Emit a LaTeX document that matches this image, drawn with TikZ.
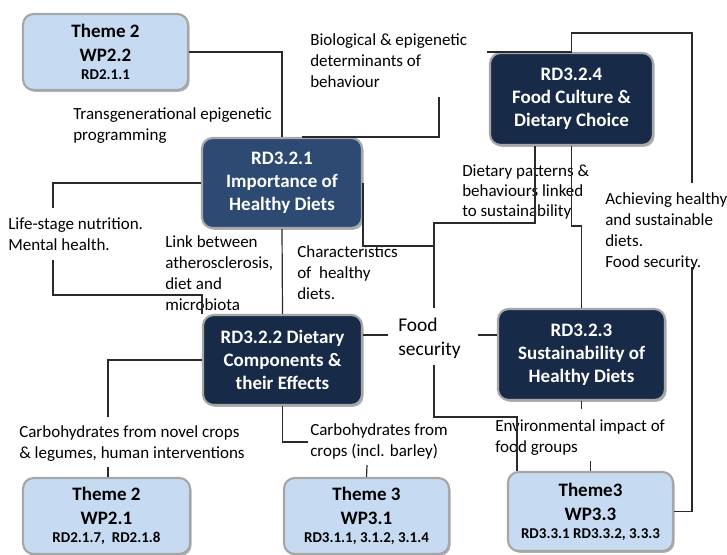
\documentclass[tikz,border=0pt]{standalone}
\usepackage{fontspec}
\setmainfont{Carlito}
\usetikzlibrary{shadows,calc}

\definecolor{navy}{HTML}{172B49}
\definecolor{steel}{HTML}{2C4A72}
\definecolor{pale}{HTML}{C6DBF2}
\definecolor{rim}{HTML}{A6A6A6}
\definecolor{wire}{HTML}{2A2A2A}

% one drawing unit = one pixel of the layout grid
\newlength\pxu \setlength\pxu{0.75pt}

\newcommand\boxheadfont{\bfseries\fontsize{14.25}{17.25}\selectfont}
\newcommand\themefont{\bfseries\fontsize{14.25}{18}\selectfont}
\newcommand\boxsubfont{\fontsize{11.25}{12}\selectfont}
\newcommand\labelfont{\fontsize{12.75}{15.75}\selectfont}
\newcommand\securityfont{\fontsize{14.6}{17.25}\selectfont}

\tikzset{
  conn/.style={draw=wire, line width=0.9pt},
  boxbase/.style={rectangle, rounded corners=8pt, draw=rim, line width=1.6pt,
    align=center, inner sep=0pt, font=\boxheadfont,
    drop shadow={shadow xshift=1.2pt, shadow yshift=-1.4pt, opacity=0.3, fill=black}},
  darkbox/.style={boxbase, fill=navy, text=white},
  lightbox/.style={boxbase, fill=pale, text=black, font=\themefont},
  % labels are placed by the baseline of their last line
  lbl/.style={inner sep=0pt, anchor=base west, align=left, font=\labelfont, text=black},
}

\begin{document}
\begin{tikzpicture}[x=0.75pt, y=-0.75pt]
  \useasboundingbox (0,0) rectangle (727,555);

  % ---------- boxes ----------
  \node[lightbox, minimum width=165\pxu, minimum height=76\pxu] (t22) at (105.5,52)
    {Theme 2\\WP2.2\\[-4.5pt]{\boxsubfont RD2.1.1}};
  \node[darkbox, minimum width=163\pxu, minimum height=92\pxu] (rd324) at (571.5,99)
    {RD3.2.4\\Food Culture \&\\Dietary Choice};
  \node[darkbox, fill=steel, minimum width=160\pxu, minimum height=90\pxu] (rd321) at (282,183)
    {RD3.2.1\\Importance of\\Healthy Diets};
  \node[darkbox, minimum width=159\pxu, minimum height=90\pxu] (rd322) at (282.5,360)
    {RD3.2.2 Dietary\\Components \&\\their Effects};
  \node[darkbox, minimum width=167\pxu, minimum height=91\pxu] (rd323) at (581.5,354.5)
    {RD3.2.3\\Sustainability of\\Healthy Diets};
  \node[lightbox, minimum width=167\pxu, minimum height=76\pxu] (t21) at (106.5,516)
    {Theme 2\\WP2.1\\[-4.5pt]{\boxsubfont RD2.1.7,\ \ RD2.1.8}};
  \node[lightbox, minimum width=165\pxu, minimum height=76\pxu] (t31) at (366.5,516)
    {Theme 3\\WP3.1\\[-4.5pt]{\boxsubfont RD3.1.1, 3.1.2, 3.1.4}};
  \node[lightbox, minimum width=165\pxu, minimum height=79\pxu] (t33) at (590.5,511.5)
    {Theme3\\WP3.3\\[-4.5pt]{\boxsubfont RD3.3.1 RD3.3.2, 3.3.3}};

  % ---------- labels ----------
  \node[lbl] (trans) at (73,141) {Transgenerational epigenetic\\programming};
  \node[lbl] (bio) at (310,88) {Biological \& epigenetic\\determinants of\\behaviour};
  \node[lbl] (life) at (8,251) {Life-stage nutrition.\\Mental health.};
  \node[lbl] (link) at (165,311) {Link between\\atherosclerosis,\\diet and\\microbiota};
  \node[lbl] (charac) at (297,300) {Characteristics\\of\ \ healthy\\diets.};
  \node[lbl, font=\fontsize{12.75}{15}\selectfont] (pattern) at (462,217)
    {Dietary patterns \&\\behaviours linked\\to sustainability};
  \node[lbl] (achieve) at (605,268) {Achieving healthy\\and sustainable\\diets.\\Food security.};
  \node[lbl, font=\securityfont] (security) at (398,355) {Food\\security};
  \node[lbl] (carbA) at (19,458) {Carbohydrates from novel crops\\\& legumes, human interventions};
  \node[lbl] (carbB) at (310,456) {Carbohydrates from\\crops (incl. barley)};
  \node[lbl] (envir) at (495,452) {Environmental impact of\\food groups};

  % ---------- free ends of the connectors ----------
  \coordinate (bioA) at (439,97);
  \coordinate (bioB) at (487,52);
  \coordinate (topR) at (692,33);
  \coordinate (achTop) at (692,183);
  \coordinate (achBot) at (692,267);
  \coordinate (j1) at (434,223);
  \coordinate (j2) at (434,246);
  \coordinate (fsTop) at (434,308);
  \coordinate (j3) at (581.5,226);
  \coordinate (fsL) at (388,335);
  \coordinate (fsR) at (478,335);
  \coordinate (fsBot) at (434,365);
  \coordinate (j4) at (517,417);
  \coordinate (envTop) at (581.5,409);
  \coordinate (envBot) at (590.5,461);
  \coordinate (lsTop) at (53,208);
  \coordinate (lsBot) at (53,260);
  \coordinate (j5) at (53,295);
  \coordinate (carbTop) at (108,417);
  \coordinate (carbBot) at (108,467);
  \coordinate (cbB) at (308,442);
  \coordinate (cbBot) at (367,465);

  % ---------- connectors ----------
  \draw[conn] (t22.east) -| (rd321.north);
  \draw[conn] ($(rd321.north)+(20,0)$) -| (bioA);
  \draw[conn] (bioB) -- (bioB -| rd324.north);
  \draw[conn] (rd324.north) |- (topR) -- (achTop);
  \draw[conn] (achBot) |- (t33.east);
  \draw[conn] ($(rd324.south)+(-36.5,0)$) |- (j1) -- (fsTop);
  \draw[conn] (rd321.east) |- (j2);
  \draw[conn] (rd324.south) |- (j3) -- (rd323.north);
  \draw[conn] (fsL) -- (fsL -| rd322.east);
  \draw[conn] (fsR) -- (fsR -| rd323.west);
  \draw[conn] (fsBot) |- (j4) -- (j4 |- t33.north);
  \draw[conn] (rd323.south) -- (envTop);
  \draw[conn] (envBot) -- (t33.north);
  \draw[conn] (rd321.west) -| (lsTop);
  \draw[conn] (lsBot) -- (j5) -| (rd322.north west);
  \draw[conn] (rd321.south) -- (rd322.north);
  \draw[conn] (rd322.west) -| (carbTop);
  \draw[conn] (carbBot) -- (carbBot |- t21.north);
  \draw[conn] (rd322.south) |- (cbB);
  \draw[conn] (cbBot) -- (t31.north);
\end{tikzpicture}
\end{document}
